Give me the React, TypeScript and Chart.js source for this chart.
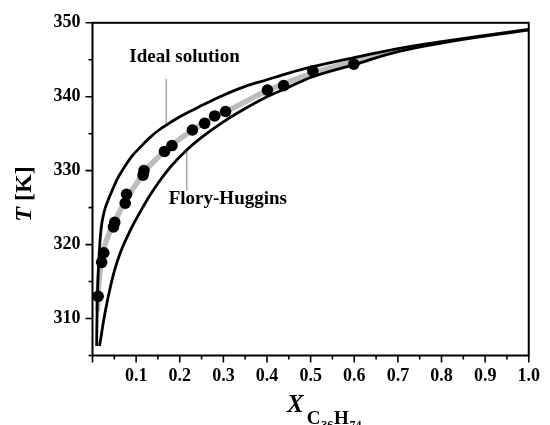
import React, { useEffect, useRef } from 'react';
import { Chart, registerables } from 'chart.js';

Chart.register(...registerables);

// ---- data ----
const xTickLabels = ['0.1', '0.2', '0.3', '0.4', '0.5', '0.6', '0.7', '0.8', '0.9', '1.0'];
const yTickLabels = ['310', '320', '330', '340', '350'];

// experimental points
const expX = [0.013, 0.021, 0.026, 0.048, 0.051, 0.075, 0.078, 0.116, 0.118, 0.165, 0.182, 0.229, 0.257, 0.280, 0.305, 0.401, 0.438, 0.505, 0.599];
const expT = [313.0, 317.6, 318.9, 322.4, 323.0, 325.6, 326.8, 329.4, 330.0, 332.6, 333.4, 335.5, 336.4, 337.4, 338.0, 340.9, 341.5, 343.5, 344.4];

// Ideal solution curve
const idealX = [0.0095, 0.010, 0.011, 0.012, 0.014, 0.017, 0.020, 0.025, 0.030, 0.035, 0.045, 0.057, 0.070, 0.091, 0.110, 0.130, 0.150, 0.170, 0.200, 0.250, 0.300, 0.350, 0.400, 0.450, 0.500, 0.600, 0.700, 0.800, 0.900, 1.000];
const idealT = [306.3, 309.0, 312.0, 314.5, 317.3, 320.3, 322.3, 324.0, 325.1, 325.9, 327.3, 328.9, 330.2, 332.0, 333.2, 334.4, 335.4, 336.2, 337.3, 338.8, 340.2, 341.4, 342.3, 343.2, 344.0, 345.3, 346.5, 347.45, 348.3, 349.1];

// Flory-Huggins curve
const fhX = [0.016, 0.019, 0.024, 0.030, 0.040, 0.050, 0.060, 0.070, 0.080, 0.095, 0.110, 0.130, 0.150, 0.180, 0.216, 0.250, 0.300, 0.350, 0.400, 0.450, 0.500, 0.600, 0.700, 0.800, 0.900, 1.000];
const fhT = [306.3, 307.3, 309.2, 311.2, 314.0, 316.4, 318.3, 319.8, 321.1, 322.9, 324.5, 326.5, 328.3, 330.6, 332.8, 334.5, 336.6, 338.4, 340.0, 341.3, 342.6, 344.35, 346.1, 347.25, 348.2, 349.0];

// gray correlation line through the data (hidden under the black curves beyond x = 0.7)
const fitX = [0.0115, 0.014, 0.02, 0.028, 0.04, 0.05, 0.065, 0.08, 0.1, 0.12, 0.15, 0.18, 0.23, 0.28, 0.33, 0.4, 0.5, 0.6, 0.7];
const fitT = [311.0, 314.5, 317.5, 319.8, 321.8, 323.0, 324.8, 326.4, 328.2, 329.9, 331.8, 333.4, 335.5, 337.3, 338.7, 340.8, 343.1, 344.8, 346.3];

// annotation labels (data coordinates)
const annIdeal = { text: 'Ideal solution', x: 0.0845, y: 345.3, lineX: 0.169, lineTop: 342.4, lineBottom: 336.2 };
const annFH = { text: 'Flory-Huggins', x: 0.1747, y: 326.1, lineX: 0.216, lineTop: 332.8, lineBottom: 327.3 };

const zip = (xs: number[], ys: number[]) => xs.map((x, i) => ({ x, y: ys[i] }));

const FONT = '"Liberation Serif", "Times New Roman", serif';

const decorPlugin = {
  id: 'decor',
  beforeDatasetsDraw(chart: any) {
    const { ctx, scales } = chart;
    const xs = scales.x, ys = scales.y;
    ctx.save();
    ctx.strokeStyle = '#a8a8a8';
    ctx.lineWidth = 1.5;
    for (const a of [annIdeal, annFH]) {
      const px = xs.getPixelForValue(a.lineX);
      ctx.beginPath();
      ctx.moveTo(px, ys.getPixelForValue(a.lineTop));
      ctx.lineTo(px, ys.getPixelForValue(a.lineBottom));
      ctx.stroke();
    }
    ctx.restore();
  },
  afterDraw(chart: any) {
    const { ctx, chartArea, scales } = chart;
    const xs = scales.x, ys = scales.y;
    const { left, right, top, bottom } = chartArea;
    ctx.save();
    // annotation texts
    ctx.fillStyle = '#000';
    ctx.font = `bold 19px ${FONT}`;
    ctx.textBaseline = 'middle';
    ctx.textAlign = 'left';
    for (const a of [annIdeal, annFH]) {
      ctx.fillText(a.text, xs.getPixelForValue(a.x), ys.getPixelForValue(a.y));
    }
    // frame
    ctx.strokeStyle = '#000';
    ctx.lineWidth = 2;
    ctx.strokeRect(left, top, right - left, bottom - top);
    // ticks
    ctx.lineWidth = 1.6;
    ctx.beginPath();
    for (const t of ys.ticks) {
      const py = ys.getPixelForValue(t.value);
      const major = yTickLabels.includes(String(Math.round(t.value)));
      const len = major ? 7 : 4;
      ctx.moveTo(left - len, py);
      ctx.lineTo(left, py);
    }
    for (const t of xs.ticks) {
      const px = xs.getPixelForValue(t.value);
      const k = Math.round(t.value * 20);
      const major = k % 2 === 0;
      const len = major ? 7 : 4;
      ctx.moveTo(px, bottom);
      ctx.lineTo(px, bottom + len);
    }
    ctx.stroke();

    // y axis title: T [K]
    ctx.save();
    ctx.translate(31, 194);
    ctx.rotate(-Math.PI / 2);
    ctx.textBaseline = 'alphabetic';
    const fT = `italic bold 24px ${FONT}`;
    const fK = `bold 24px ${FONT}`;
    ctx.font = fT;
    const wT = ctx.measureText('T').width;
    ctx.font = fK;
    const wK = ctx.measureText(' [K]').width;
    const u = -(wT + wK) / 2;
    ctx.font = fT;
    ctx.fillText('T', u, 0);
    ctx.font = fK;
    ctx.fillText(' [K]', u + wT, 0);
    ctx.restore();

    // x axis title: X_{C36H74}
    let cx = 287;
    const base = 412;
    ctx.textBaseline = 'alphabetic';
    ctx.font = `italic bold 25px ${FONT}`;
    ctx.fillText('X', cx, base);
    cx += ctx.measureText('X').width + 3;
    const parts: [string, number, number][] = [
      ['C', 19, base + 11.5],
      ['36', 12, base + 17],
      ['H', 19, base + 11.5],
      ['74', 12, base + 17],
    ];
    for (const [s, size, b] of parts) {
      ctx.font = `bold ${size}px ${FONT}`;
      ctx.fillText(s, cx, b);
      cx += ctx.measureText(s).width + 0.8;
    }
    ctx.restore();
  },
};

export default function App() {
  const ref = useRef<HTMLCanvasElement | null>(null);
  useEffect(() => {
    if (!ref.current) return;
    const chart = new Chart(ref.current, {
      type: 'scatter',
      data: {
        datasets: [
          {
            label: 'Experimental',
            data: zip(expX, expT),
            showLine: false,
            pointRadius: 5.8,
            pointBackgroundColor: '#000',
            pointBorderColor: '#000',
            pointBorderWidth: 0,
          },
          {
            label: 'Ideal solution',
            data: zip(idealX, idealT),
            showLine: true,
            borderColor: '#000',
            borderWidth: 2.8,
            pointRadius: 0,
            cubicInterpolationMode: 'monotone',
          },
          {
            label: 'Flory-Huggins',
            data: zip(fhX, fhT),
            showLine: true,
            borderColor: '#000',
            borderWidth: 2.8,
            pointRadius: 0,
            cubicInterpolationMode: 'monotone',
          },
          {
            label: 'Correlation',
            data: zip(fitX, fitT),
            showLine: true,
            borderColor: '#bdbdbd',
            borderWidth: 5.5,
            pointRadius: 0,
            cubicInterpolationMode: 'monotone',
          },
        ],
      },
      options: {
        responsive: false,
        animation: false,
        layout: { padding: { top: 20, right: 14, left: 0, bottom: 0 } },
        plugins: { legend: { display: false }, tooltip: { enabled: false } },
        scales: {
          x: {
            type: 'linear',
            min: 0,
            max: 1,
            grid: { display: false, drawTicks: false },
            border: { display: false },
            ticks: {
              stepSize: 0.05,
              padding: 10,
              color: '#000',
              maxRotation: 0,
              autoSkip: false,
              font: { family: 'Liberation Serif', size: 18, weight: 'bold' },
              callback: (v: any) => {
                const k = Math.round(Number(v) * 20);
                if (k % 2 !== 0) return '';
                const s = (k / 20).toFixed(1);
                return xTickLabels.includes(s) ? s : '';
              },
            },
            afterFit: (s: any) => { s.height = 69.5; },
          },
          y: {
            type: 'linear',
            min: 305,
            max: 350,
            grid: { display: false, drawTicks: false },
            border: { display: false },
            ticks: {
              stepSize: 5,
              padding: 12,
              color: '#000',
              autoSkip: false,
              font: { family: 'Liberation Serif', size: 18, weight: 'bold' },
              callback: (v: any) => {
                const s = String(Math.round(Number(v)));
                return yTickLabels.includes(s) ? s : '';
              },
            },
            afterFit: (s: any) => { s.width = 92.5; },
          },
        },
      },
      plugins: [decorPlugin],
    });
    return () => chart.destroy();
  }, []);
  return (
    <div style={{ position: 'absolute', left: 0, top: 0, width: 550, height: 425, background: '#fff' }}>
      <canvas ref={ref} width={550} height={425} style={{ display: 'block' }} />
    </div>
  );
}
